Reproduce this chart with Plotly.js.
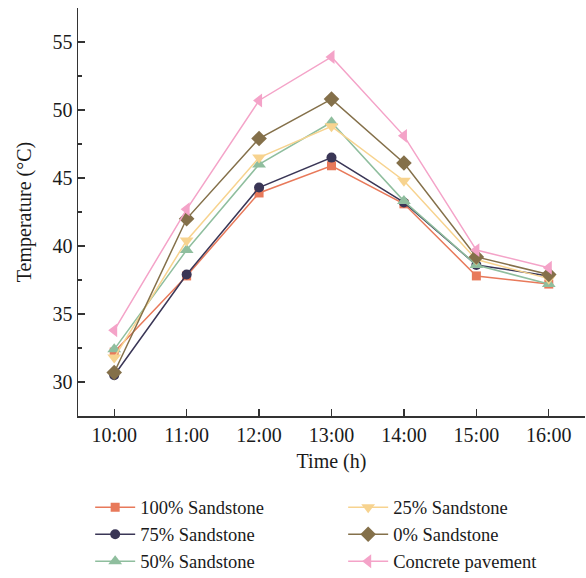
<!DOCTYPE html>
<html>
<head>
<meta charset="utf-8">
<script src="https://cdn.plot.ly/plotly-3.0.1.min.js"></script>
<style>html,body{margin:0;padding:0;background:#fff;}#chart{width:586px;height:578px;}</style>
</head>
<body>
<div id="chart"></div>
<script>
const times = ["10:00","11:00","12:00","13:00","14:00","15:00","16:00"];
const sand100 = [32.2, 37.8, 43.9, 45.9, 43.1, 37.8, 37.2];
const sand75  = [30.5, 37.9, 44.3, 46.5, 43.2, 38.6, 37.8];
const sand50  = [32.4, 39.7, 46.0, 49.1, 43.3, 38.6, 37.2];
const sand25  = [31.8, 40.4, 46.5, 48.8, 44.8, 39.0, 37.6];
const sand0   = [30.7, 42.0, 47.9, 50.8, 46.1, 39.2, 37.9];
const concrete = [33.8, 42.7, 50.7, 53.9, 48.1, 39.7, 38.4];
const yTicks = [30, 35, 40, 45, 50, 55];

function tr(name, y, color, symbol, size, legend) {
  return {
    x: times, y: y, name: name, type: 'scatter', mode: 'lines+markers',
    line: {color: color, width: 1.5},
    marker: {color: color, symbol: symbol, size: size},
    legend: legend
  };
}

const data = [
  tr('100% Sandstone', sand100, '#E8795A', 'square', 9, 'legend'),
  tr('75% Sandstone', sand75, '#3A3656', 'circle', 10, 'legend'),
  tr('50% Sandstone', sand50, '#8FBE9E', 'triangle-up', 12, 'legend'),
  tr('25% Sandstone', sand25, '#F7D38F', 'triangle-down', 12, 'legend2'),
  tr('0% Sandstone', sand0, '#84704A', 'diamond', 12, 'legend2'),
  tr('Concrete pavement', concrete, '#F4A3C8', 'triangle-left', 12, 'legend2')
];

const font = {family: '"Liberation Serif", "DejaVu Serif", serif', size: 20, color: '#1a1a1a'};
const legFont = {family: font.family, size: 18.5, color: '#1a1a1a'};

const layout = {
  width: 586, height: 578,
  margin: {l: 78, r: 1, t: 8, b: 162, autoexpand: false},
  paper_bgcolor: '#fff', plot_bgcolor: '#fff',
  font: font,
  showlegend: true,
  xaxis: {
    type: 'category', range: [-0.5, 6.5], automargin: false,
    showline: true, linecolor: '#333', linewidth: 1.5,
    ticks: 'inside', ticklen: 7, tickcolor: '#333', tickwidth: 1.2,
    minor: {ticks: 'inside', ticklen: 4, tickcolor: '#333', tickwidth: 1.2},
    showgrid: false, zeroline: false,
    tickfont: font,
    title: {text: 'Time (h)', font: font, standoff: 9}
  },
  yaxis: {
    range: [27.5, 57.5], automargin: false,
    tickvals: yTicks,
    showline: true, linecolor: '#333', linewidth: 1.5,
    ticks: 'inside', ticklen: 7, tickcolor: '#333', tickwidth: 1.2,
    minor: {tickvals: [27.5, 32.5, 37.5, 42.5, 47.5, 52.5, 57.5], ticks: 'inside', ticklen: 4, tickcolor: '#333', tickwidth: 1.2},
    showgrid: false, zeroline: false,
    tickfont: font,
    title: {text: 'Temperature (°C)', font: font, standoff: 15}
  },
  legend: {
    x: 0.024, y: -0.178, xanchor: 'left', yanchor: 'top',
    orientation: 'v', font: legFont, tracegroupgap: 0, itemwidth: 40,
    bgcolor: 'rgba(0,0,0,0)'
  },
  legend2: {
    x: 0.523, y: -0.178, xanchor: 'left', yanchor: 'top',
    orientation: 'v', font: legFont, tracegroupgap: 0, itemwidth: 40,
    bgcolor: 'rgba(0,0,0,0)'
  }
};

Plotly.newPlot('chart', data, layout, {displayModeBar: false, staticPlot: true});
</script>
</body>
</html>
